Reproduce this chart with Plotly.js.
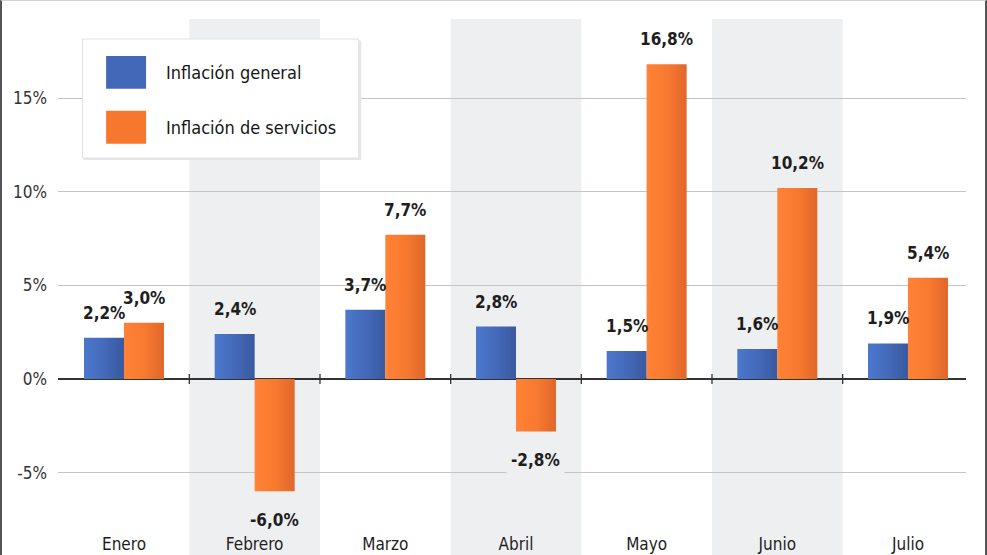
<!DOCTYPE html>
<html>
<head>
<meta charset="utf-8">
<script src="https://cdn.plot.ly/plotly-3.0.1.min.js"></script>
<style>
  html, body { margin: 0; padding: 0; background: #fff; }
  #chart { width: 987px; height: 555px; }
  #frame { position: absolute; left: 0; top: 0; width: 987px; height: 555px; box-sizing: border-box;
           border-left: 2px solid #555; border-right: 2px solid #555; border-top: 1px solid #d0d0d0; pointer-events: none; }
</style>
</head>
<body>
<div id="chart"></div>
<div id="frame"></div>
<svg width="0" height="0" style="position:absolute">
  <defs>
    <linearGradient id="gradBlue" x1="0" y1="0" x2="1" y2="0">
      <stop offset="0" stop-color="#4B78CC"/>
      <stop offset="0.55" stop-color="#4468B8"/>
      <stop offset="1" stop-color="#39599F"/>
    </linearGradient>
    <linearGradient id="gradOrange" x1="0" y1="0" x2="1" y2="0">
      <stop offset="0" stop-color="#FF8236"/>
      <stop offset="0.55" stop-color="#F6792F"/>
      <stop offset="1" stop-color="#E0662A"/>
    </linearGradient>
  </defs>
</svg>
<script>
const months = ["Enero", "Febrero", "Marzo", "Abril", "Mayo", "Junio", "Julio"];
const inflacionGeneral = [2.2, 2.4, 3.7, 2.8, 1.5, 1.6, 1.9];
const inflacionServicios = [3.0, -6.0, 7.7, -2.8, 16.8, 10.2, 5.4];
const seriesNames = ["Inflación general", "Inflación de servicios"];
const yTickVals = [-5, 0, 5, 10, 15];
const yTickText = ["-5%", "0%", "5%", "10%", "15%"];

const FONT = "'DejaVu Sans Condensed', 'Liberation Sans Narrow', 'Arial Narrow', sans-serif";
const BLUE = "#4468B8";
const ORANGE = "#F5782E";
const BAND = "#EEEFF0";

const fmt = v => v.toFixed(1).replace(".", ",") + "%";

const traces = [
  { type: "bar", name: seriesNames[0], x: months, y: inflacionGeneral,
    marker: { color: BLUE }, hoverinfo: "skip", showlegend: false },
  { type: "bar", name: seriesNames[1], x: months, y: inflacionServicios,
    marker: { color: ORANGE }, hoverinfo: "skip", showlegend: false }
];

const shapes = [];
months.forEach((m, i) => {
  if (i % 2 === 1) {
    shapes.push({ type: "rect", layer: "below", xref: "x", yref: "paper",
      x0: i - 0.5, x1: i + 0.5, y0: -0.08, y1: 1, fillcolor: BAND, line: { width: 0 } });
  }
});
for (let i = 0; i < months.length - 1; i++) {
  shapes.push({ type: "line", layer: "above", xref: "x", yref: "y", ysizemode: "pixel", yanchor: 0,
    x0: i + 0.5, x1: i + 0.5, y0: -5, y1: 5, line: { color: "#333", width: 1.3 } });
}
shapes.push({ type: "rect", xref: "paper", yref: "paper", layer: "above",
  x0: 0.028, x1: 0.334, y0: 0.725, y1: 0.958, fillcolor: "#e6e6e6", line: { width: 0 } });
shapes.push({ type: "rect", xref: "paper", yref: "paper", layer: "above",
  x0: 0.027, x1: 0.331, y0: 0.729, y1: 0.961, fillcolor: "#ffffff", line: { color: "#e2e2e2", width: 1 } });
shapes.push({ type: "rect", xref: "paper", yref: "paper", layer: "above",
  x0: 0.053, x1: 0.097, y0: 0.864, y1: 0.928, fillcolor: BLUE, line: { width: 0 } });
shapes.push({ type: "rect", xref: "paper", yref: "paper", layer: "above",
  x0: 0.053, x1: 0.097, y0: 0.757, y1: 0.821, fillcolor: ORANGE, line: { width: 0 } });

const annotations = [];
[inflacionGeneral, inflacionServicios].forEach((series, s) => {
  series.forEach((v, i) => {
    annotations.push({
      x: months[i], y: v, xref: "x", yref: "y",
      xshift: s === 0 ? -20 : 20,
      yanchor: v >= 0 ? "bottom" : "top",
      yshift: v >= 0 ? 10 : -14,
      text: fmt(v), showarrow: false,
      bgcolor: v >= 0 ? "rgba(0,0,0,0)" : (i % 2 === 1 ? BAND : "#ffffff"),
      borderpad: 4,
      font: { family: FONT, size: 17, color: "#1e1e1e", weight: "bold" }
    });
  });
});
annotations.push({ xref: "paper", yref: "paper", x: 0.117, y: 0.896, xanchor: "left", yanchor: "middle",
  text: seriesNames[0], showarrow: false, font: { family: FONT, size: 18, color: "#161616" } });
annotations.push({ xref: "paper", yref: "paper", x: 0.117, y: 0.789, xanchor: "left", yanchor: "middle",
  text: seriesNames[1], showarrow: false, font: { family: FONT, size: 18, color: "#161616" } });

const layout = {
  width: 987, height: 555,
  margin: { l: 58, r: 21, t: 19, b: 23 },
  paper_bgcolor: "rgba(0,0,0,0)",
  plot_bgcolor: "rgba(0,0,0,0)",
  barmode: "group",
  bargap: 0.388,
  bargroupgap: 0,
  showlegend: false,
  xaxis: {
    type: "category", range: [-0.505, 6.444], showgrid: false, zeroline: false, showline: false,
    ticks: "", ticklabelstandoff: 0,
    tickfont: { family: FONT, size: 17, color: "#1e1e1e" }, fixedrange: true
  },
  yaxis: {
    range: [-8.17, 19.22], tickvals: yTickVals, ticktext: yTickText,
    showgrid: true, gridcolor: "#c4c4c4", gridwidth: 1,
    zeroline: true, zerolinecolor: "#333333", zerolinewidth: 1.5,
    showline: false, ticks: "", ticklabelstandoff: 10,
    tickfont: { family: FONT, size: 17, color: "#333333" }, fixedrange: true
  },
  shapes: shapes,
  annotations: annotations
};

Plotly.newPlot("chart", traces, layout, { displayModeBar: false, staticPlot: true }).then(gd => {
  const grads = ["url(#gradBlue)", "url(#gradOrange)"];
  gd.querySelectorAll(".barlayer .trace.bars").forEach((tr, k) => {
    tr.querySelectorAll(".point path").forEach(p => { p.style.fill = grads[k % 2]; });
  });
});
</script>
</body>
</html>
